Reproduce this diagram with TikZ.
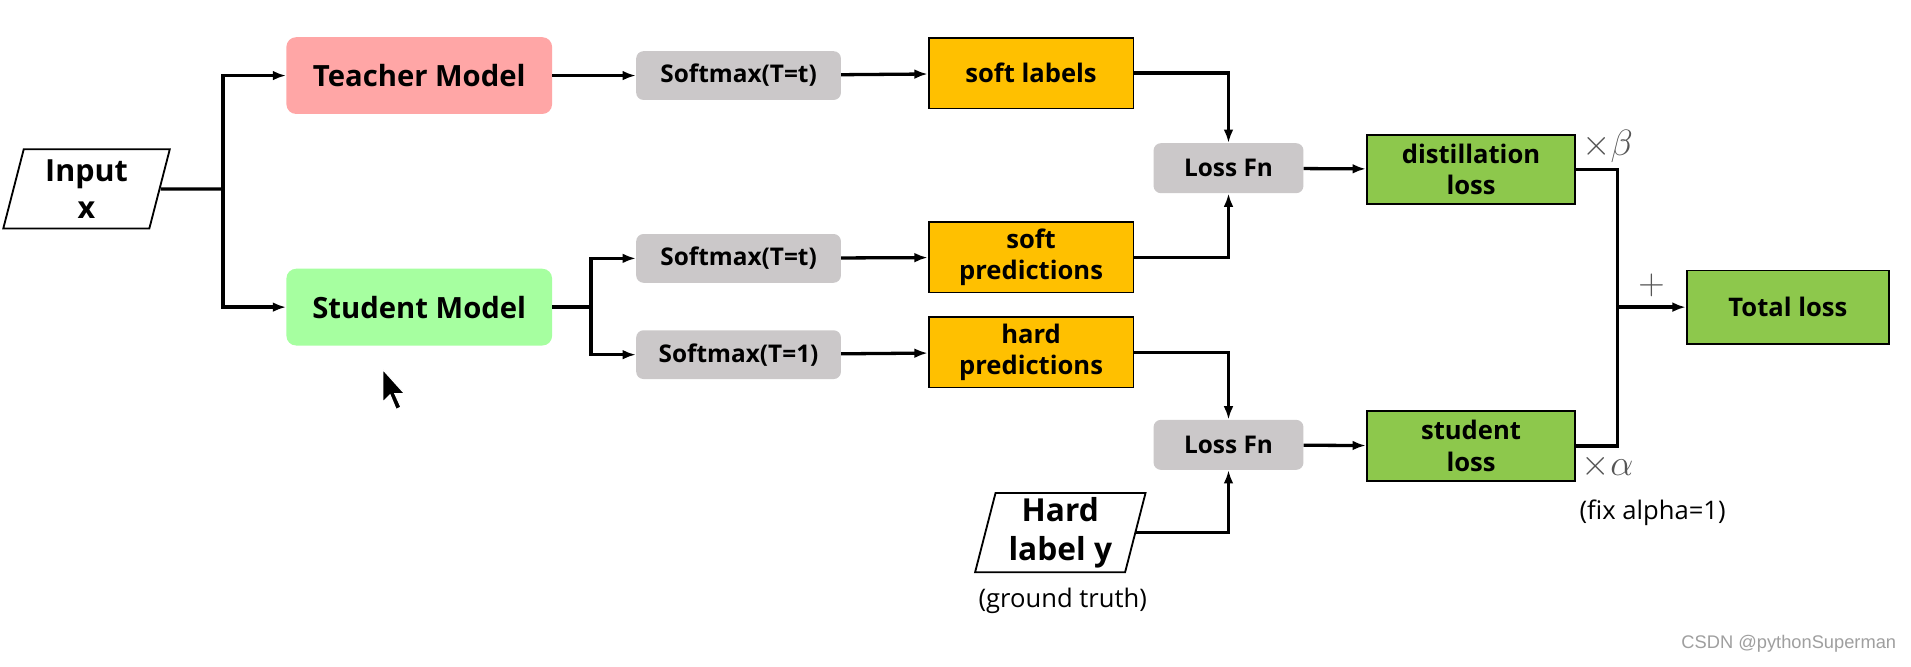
\documentclass[tikz,border=0pt]{standalone}
\usepackage{fix-cm}
\usepackage{fontspec}
\setmainfont{Open Sans}
\newfontfamily\wmfont{Liberation Sans}
\usetikzlibrary{shapes.geometric,arrows.meta}
\definecolor{tpink}{HTML}{FFA6A6}
\definecolor{sgreen}{HTML}{A6FFA0}
\definecolor{sgray}{HTML}{CBC8C9}
\definecolor{orng}{HTML}{FFC000}
\definecolor{lgreen}{HTML}{8DC84C}
\definecolor{mgray}{HTML}{555555}
\tikzset{
 base/.style={inner sep=0pt, align=center, font=\bfseries\fontsize{21}{26}\selectfont},
 model/.style={base, rounded corners=8pt, minimum width=218pt, minimum height=63pt, font=\bfseries\fontsize{24}{28}\selectfont},
 smx/.style={base, fill=sgray, rounded corners=6pt, minimum width=168pt, minimum height=40pt, font=\bfseries\fontsize{20}{22}\selectfont},
 obox/.style={base, draw, line width=1.5pt, fill=orng, minimum width=168pt, minimum height=58pt},
 gbox/.style={base, draw, line width=1.5pt, fill=lgreen, minimum width=171pt, minimum height=57pt},
 lossfn/.style={base, fill=sgray, rounded corners=6pt, minimum width=123pt, minimum height=41pt, font=\bfseries\fontsize{20}{22}\selectfont},
 para/.style={base, draw, line width=1.5pt, fill=white, trapezium, trapezium left angle=77, trapezium right angle=103, trapezium stretches=true, minimum width=137pt, minimum height=65pt},
 conn/.style={line width=2.7pt},
 arr/.style={conn, -{Latex[length=11pt,width=8pt]}},
 note/.style={inner sep=0pt, font=\fontsize{21}{25}\selectfont},
 mathlab/.style={inner sep=0pt, text=mgray, font=\fontsize{30}{34}\selectfont},
}
\begin{document}
\begin{tikzpicture}[x=1pt,y=-1pt]
\useasboundingbox[fill=white] (0,0) rectangle (1568,547);

% nodes
\node[para, font=\bfseries\fontsize{25}{30}\selectfont] (inp) at (71,155) {Input\\x};
\node[model, fill=tpink] (teacher) at (344,62) {Teacher Model};
\node[model, fill=sgreen] (student) at (344,252) {Student Model};
\node[smx] (sm1) at (606,62) {Softmax(T=t)};
\node[smx] (sm2) at (606,212) {Softmax(T=t)};
\node[smx] (sm3) at (606,291) {Softmax(T=1)};
\node[obox] (softlab) at (846,60) {soft labels};
\node[obox] (softpred) at (846,211) {soft\\predictions};
\node[obox] (hardpred) at (846,289) {hard\\predictions};
\node[lossfn] (lf1) at (1008,138) {Loss Fn};
\node[lossfn] (lf2) at (1008,365) {Loss Fn};
\node[gbox] (distill) at (1207,139) {distillation\\loss};
\node[gbox] (stloss) at (1207,366) {student\\loss};
\node[gbox, minimum width=166pt, minimum height=60pt] (total) at (1467,252) {Total loss};
\node[para, font=\bfseries\fontsize{26}{32}\selectfont, minimum width=140pt] (hardlab) at (870,437) {Hard\\label y};

\node[note] (gt) at (872,493) {(ground truth)};
\node[note] (fix) at (1356,421) {(fix alpha=1)};
\node[mathlab] (beta) at (1319,120) {$\times\beta$};
\node[mathlab] (alpha) at (1319,383) {$\times\alpha$};
\node[mathlab] (plus) at (1355,234) {$+$};
\node[inner sep=0pt, text=gray!75, font=\wmfont\fontsize{15}{18}\selectfont, anchor=east] (wm) at (1556,528) {CSDN @pythonSuperman};

% junction coordinates
\coordinate (s1) at (183,155);
\coordinate (s2) at (485,252);
\coordinate (sum) at (1327,252);

% connectors
\draw[conn] (inp.east) -- (s1);
\draw[arr] (s1) |- (teacher.west);
\draw[arr] (s1) |- (student.west);
\draw[arr] (teacher) -- (sm1);
\draw[arr] (sm1) -- (softlab);
\draw[arr] (softlab.east) -| (lf1.north);
\draw[arr] (softpred.east) -| (lf1.south);
\draw[arr] (lf1) -- (distill);
\draw[conn] (student.east) -- (s2);
\draw[arr] (s2) |- (sm2.west);
\draw[arr] (s2) |- (sm3.west);
\draw[arr] (sm2) -- (softpred);
\draw[arr] (sm3) -- (hardpred);
\draw[arr] (hardpred.east) -| (lf2.north);
\draw[arr] (hardlab.east) -| (lf2.south);
\draw[arr] (lf2) -- (stloss);
\draw[conn] (distill.east) -| (sum);
\draw[conn] (stloss.east) -| (sum);
\draw[arr] (sum) -- (total);

% mouse cursor
\fill[black, draw=white, line width=1pt, shift={(314,303)}] (0,0) -- (0,27) -- (6,21) -- (11,33) -- (15,31) -- (10,20) -- (18,20) -- cycle;
\end{tikzpicture}
\end{document}
